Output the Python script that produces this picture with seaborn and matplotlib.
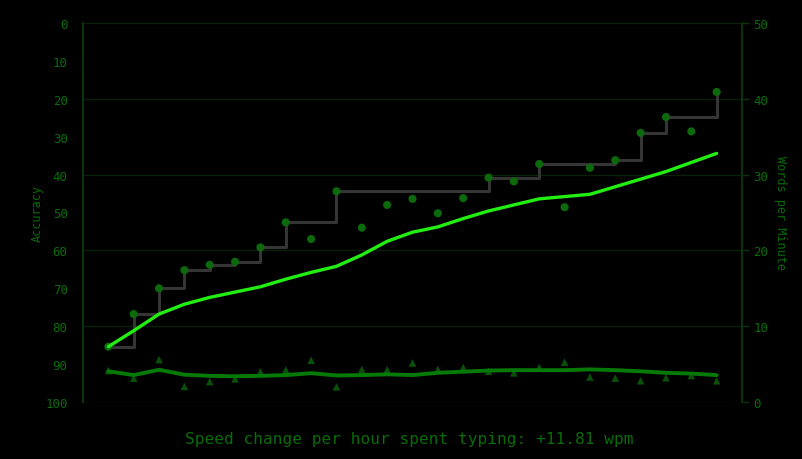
import numpy as np
import pandas as pd
import matplotlib
matplotlib.use("Agg")
import matplotlib.pyplot as plt
import seaborn as sns

# ---- data ----
session = list(range(25))
wpm = [7.3, 11.6, 15.0, 17.4, 18.1, 18.5, 20.4, 23.7, 21.5, 27.8, 23.0, 26.0, 26.8,
       24.9, 26.9, 29.6, 29.1, 31.4, 25.7, 30.9, 31.9, 35.5, 37.6, 35.7, 40.9]
best_wpm = [7.3, 11.6, 15.0, 17.4, 18.1, 18.5, 20.4, 23.7, 23.7, 27.8, 27.8, 27.8, 27.8,
            27.8, 27.8, 29.6, 29.6, 31.4, 31.4, 31.4, 31.9, 35.5, 37.6, 37.6, 40.9]
wpm_trend = [7.3, 9.4, 11.6, 12.9, 13.8, 14.5, 15.2, 16.2, 17.1, 17.9, 19.4, 21.2, 22.4,
             23.1, 24.2, 25.2, 26.0, 26.8, 27.1, 27.4, 28.4, 29.4, 30.4, 31.6, 32.8]
accuracy = [91.7, 93.7, 88.8, 95.9, 94.6, 93.9, 92.0, 91.5, 89.0, 96.0, 91.4, 91.5, 89.7,
            91.4, 90.9, 91.9, 92.3, 90.9, 89.5, 93.4, 93.7, 94.4, 93.6, 93.0, 94.4]
acc_trend = [91.9, 92.9, 91.5, 92.8, 93.1, 93.2, 93.1, 92.9, 92.4, 93.0, 92.9, 92.7, 92.9,
             92.3, 92.0, 91.7, 91.6, 91.6, 91.6, 91.4, 91.6, 91.9, 92.3, 92.5, 92.9]
acc_ticks = [0, 10, 20, 30, 40, 50, 60, 70, 80, 90, 100]
wpm_ticks = [0, 10, 20, 30, 40, 50]
footer = "Speed change per hour spent typing: +11.81 wpm"

df = pd.DataFrame({"session": session, "wpm": wpm, "best": best_wpm,
                   "trend": wpm_trend, "acc": accuracy, "acc_trend": acc_trend})

# ---- style ----
sns.set_theme(style="dark")
plt.rcParams["font.family"] = ["DejaVu Sans Mono", "DejaVu Sans"]

BG = "#000000"
TXT = "#0a6b0a"
GRID = "#082208"
SPINE = "#0c340c"

fig = plt.figure(figsize=(8.03, 4.60), dpi=100, facecolor=BG)
ax = fig.add_axes([83 / 803, 57 / 460, (742 - 83) / 803, (403 - 24) / 460])
ax.set_facecolor(BG)
ax2 = ax.twinx()

# accuracy (left, inverted)
sns.scatterplot(data=df, x="session", y="acc", ax=ax, marker="^", s=30,
                color="#0a4f0a", edgecolor="none", zorder=2)
sns.lineplot(data=df, x="session", y="acc_trend", ax=ax, color="#067a06",
             linewidth=2.8, zorder=3)

# wpm (right)
sns.lineplot(data=df, x="session", y="best", ax=ax2, color="#353535",
             linewidth=2.2, drawstyle="steps-post", zorder=2)
sns.scatterplot(data=df, x="session", y="wpm", ax=ax2, s=34,
                color="#0c6a0c", edgecolor="none", zorder=3)
sns.lineplot(data=df, x="session", y="trend", ax=ax2, color="#22ee11",
             linewidth=2.4, zorder=4)

ax.set_xlim(-1, 25)
ax.set_ylim(100, 0)
ax2.set_ylim(0, 50)

ax.set_yticks(acc_ticks)
ax.set_yticklabels([str(t) for t in acc_ticks])
ax2.set_yticks(wpm_ticks)
ax2.set_yticklabels([str(t) for t in wpm_ticks])
ax.set_xticks([])

ax.grid(False)
ax2.grid(True, axis="y", color=GRID, linewidth=1.0)
ax2.set_axisbelow(True)

ax.tick_params(axis="y", length=0, pad=11, labelsize=9, labelcolor=TXT)
ax2.tick_params(axis="y", length=5, width=1, color=SPINE, pad=3, labelsize=9,
                labelcolor=TXT, right=True)

ax.set_xlabel("")
ax.set_ylabel("Accuracy", color=TXT, fontsize=8.5, va="center")
ax.yaxis.set_label_coords((37 - 83) / 659, 0.5)
ax2.set_ylabel("Words per Minute", color=TXT, fontsize=8.5, rotation=270,
               va="center")
ax2.yaxis.set_label_coords((781 - 83) / 659, 0.5)

for a in (ax, ax2):
    a.patch.set_alpha(0)
    for side in ("top", "bottom"):
        a.spines[side].set_visible(False)
    a.spines["left"].set_color(SPINE)
    a.spines["right"].set_color(SPINE)
ax.set_facecolor(BG)
ax.patch.set_alpha(1)

fig.text(409 / 803, 1 - 440 / 460, footer, color=TXT, fontsize=11.6,
         ha="center", va="center")

fig.savefig("out.png", dpi=100, facecolor=BG)
